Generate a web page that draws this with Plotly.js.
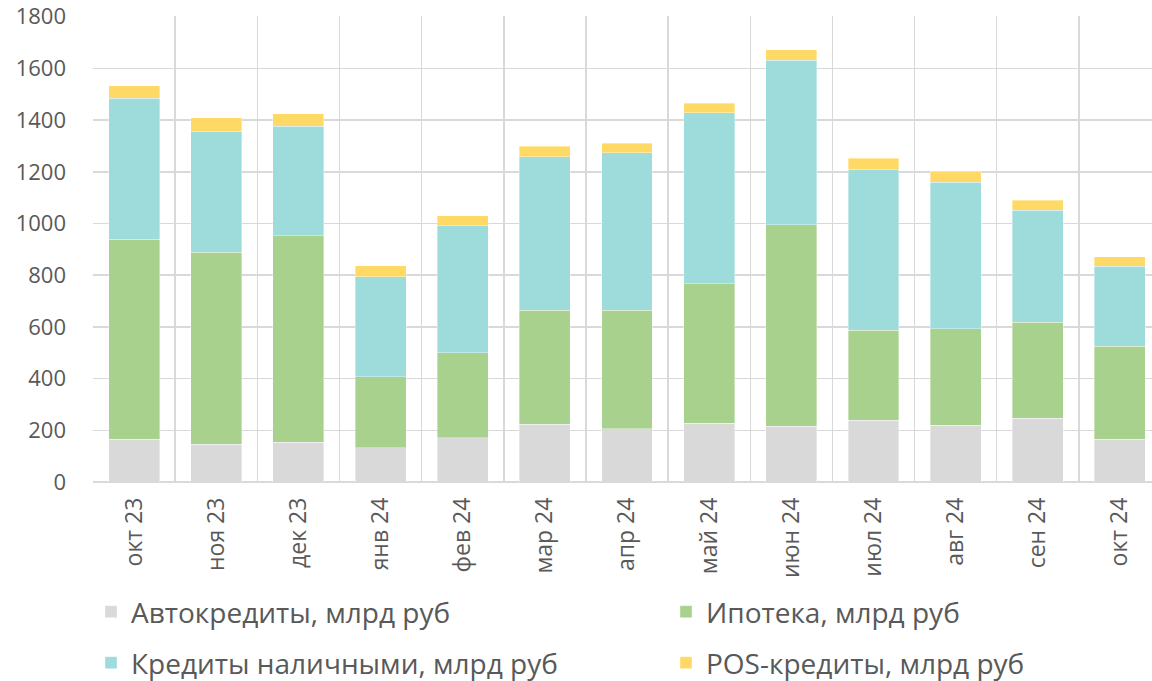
<!DOCTYPE html>
<html>
<head>
<meta charset="utf-8">
<script src="https://cdn.plot.ly/plotly-3.0.1.min.js"></script>
<style>html,body{margin:0;padding:0;background:#fff;overflow:hidden}</style>
</head>
<body>
<div id="chart" style="width:1152px;height:681px"></div>
<script>
const months = ["окт 23","ноя 23","дек 23","янв 24","фев 24","мар 24","апр 24","май 24","июн 24","июл 24","авг 24","сен 24","окт 24"];
const autoLoans = [166,146,154,132,171,224,206,227,216,239,220,247,166];
const mortgage  = [773,742,799,275,329,440,458,540,780,348,372,371,359];
const cashLoans = [545,470,423,388,492,594,609,662,636,621,567,434,309];
const posLoans  = [50,52,49,41,38,41,38,37,41,44,43,39,37];

const names = ["Автокредиты, млрд руб","Ипотека, млрд руб","Кредиты наличными, млрд руб","POS-кредиты, млрд руб"];
const colors = ["#D9D9D9","#A9D18E","#9DDCDA","#FFD966"];
const series = [autoLoans, mortgage, cashLoans, posLoans];
const legendIds = ["legend","legend2","legend3","legend4"];
const FONT = "Open Sans, sans-serif";
const TXT = "#595959";

const traces = series.map((s,i)=>({
  type:"bar", x:months, y:s, name:names[i], legend:legendIds[i],
  marker:{color:colors[i], line:{color:"rgba(255,255,255,0.6)", width:0.6}},
  hoverinfo:"y+name"
}));

function legendAt(xPx, yPx){
  return {
    orientation:"h", xref:"container", yref:"container",
    xanchor:"left", yanchor:"middle", x:xPx/1152, y:1-yPx/681,
    font:{family:FONT, size:28, color:TXT}, bgcolor:"rgba(0,0,0,0)",
    borderwidth:0
  };
}

const layout = {
  width:1152, height:681,
  margin:{l:93, r:0, t:16, b:199, pad:0},
  barmode:"stack", bargap:0.38,
  paper_bgcolor:"#fff", plot_bgcolor:"#fff",
  font:{family:FONT, color:TXT},
  xaxis:{
    type:"category", range:[-0.5, 12.39], tickangle:-90,
    tickson:"boundaries", showgrid:true, gridcolor:"#D9D9D9", gridwidth:1.5,
    ticks:"", showline:false, ticklabelstandoff:10,
    tickfont:{family:FONT, size:23, color:TXT},
    fixedrange:true
  },
  yaxis:{
    range:[0,1803], dtick:200, tick0:0, showgrid:true, gridcolor:"#D9D9D9", gridwidth:1.5,
    zeroline:true, zerolinecolor:"#D9D9D9", zerolinewidth:1.5, showline:false,
    ticks:"", ticklabelstandoff:26, ticklabeloverflow:"allow",
    tickfont:{family:FONT, size:22, color:TXT},
    fixedrange:true
  },
  legend:legendAt(91, 612),
  legend2:legendAt(666, 612),
  legend3:legendAt(91, 663),
  legend4:legendAt(666, 663),
  showlegend:true
};

Plotly.newPlot("chart", traces, layout, {displayModeBar:false, staticPlot:true});
</script>
</body>
</html>
